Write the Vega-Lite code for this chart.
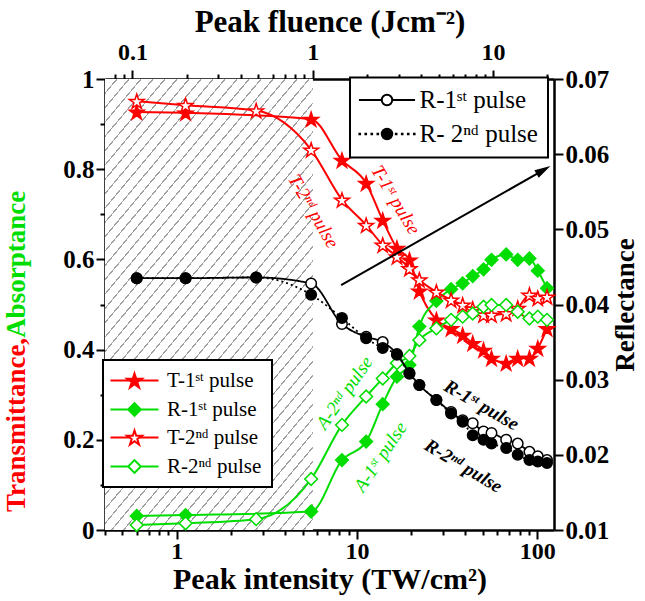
{
"$schema": "https://vega.github.io/schema/vega-lite/v6.json",
"width": 449, "height": 451,
"autosize": {"type": "none"},
"padding": {"left": 105, "top": 79, "right": 91, "bottom": 71},
"background": "white",
"config": {
  "view": {"stroke": null},
  "font": "Liberation Serif",
  "legend": {"strokeWidth": 2},
  "axis": {"domainColor": "black", "domainWidth": 2.5, "tickColor": "black", "tickWidth": 2, "grid": false,
    "labelFont": "Liberation Serif", "labelFontWeight": "bold", "labelFontSize": 25, "labelColor": "black",
    "titleFont": "Liberation Serif", "titleFontWeight": "bold", "titleColor": "black",
    "labelFlush": false, "labelOverlap": false, "labelBound": false, "labelPadding": 2}
},
"datasets": {
"ta": [
{"s":"T1","I":0.6,"v":0.927},{"s":"T1","I":1.12,"v":0.925},{"s":"T1","I":5.57,"v":0.911},{"s":"T1","I":8.26,"v":0.82},{"s":"T1","I":11.25,"v":0.769},{"s":"T1","I":13.9,"v":0.687},{"s":"T1","I":16.67,"v":0.625},{"s":"T1","I":19.56,"v":0.599},{"s":"T1","I":22.2,"v":0.53},{"s":"T1","I":27.6,"v":0.466},{"s":"T1","I":33.3,"v":0.447},{"s":"T1","I":38.6,"v":0.432},{"s":"T1","I":43.9,"v":0.414},{"s":"T1","I":50.4,"v":0.399},{"s":"T1","I":55.8,"v":0.381},{"s":"T1","I":67.3,"v":0.37},{"s":"T1","I":78,"v":0.381},{"s":"T1","I":90.6,"v":0.381},{"s":"T1","I":100.8,"v":0.403},{"s":"T1","I":113.4,"v":0.447},
{"s":"A1","I":0.6,"v":0.031},{"s":"A1","I":1.12,"v":0.033},{"s":"A1","I":5.57,"v":0.041},{"s":"A1","I":8.26,"v":0.155},{"s":"A1","I":11.25,"v":0.196},{"s":"A1","I":13.9,"v":0.279},{"s":"A1","I":16.67,"v":0.34},{"s":"A1","I":19.56,"v":0.366},{"s":"A1","I":22.2,"v":0.451},{"s":"A1","I":27.6,"v":0.508},{"s":"A1","I":33.3,"v":0.534},{"s":"A1","I":38.6,"v":0.547},{"s":"A1","I":43.9,"v":0.563},{"s":"A1","I":50.4,"v":0.578},{"s":"A1","I":55.8,"v":0.599},{"s":"A1","I":67.3,"v":0.611},{"s":"A1","I":78,"v":0.599},{"s":"A1","I":90.6,"v":0.602},{"s":"A1","I":100.8,"v":0.575},{"s":"A1","I":113.4,"v":0.536},
{"s":"T2","I":0.6,"v":0.951},{"s":"T2","I":1.12,"v":0.942},{"s":"T2","I":2.76,"v":0.93},{"s":"T2","I":5.57,"v":0.843},{"s":"T2","I":8.26,"v":0.732},{"s":"T2","I":11.25,"v":0.676},{"s":"T2","I":13.9,"v":0.632},{"s":"T2","I":16.67,"v":0.606},{"s":"T2","I":19.56,"v":0.58},{"s":"T2","I":22.2,"v":0.555},{"s":"T2","I":27.6,"v":0.528},{"s":"T2","I":33.3,"v":0.51},{"s":"T2","I":38.6,"v":0.499},{"s":"T2","I":43.9,"v":0.49},{"s":"T2","I":50.4,"v":0.477},{"s":"T2","I":55.8,"v":0.477},{"s":"T2","I":67.3,"v":0.48},{"s":"T2","I":78,"v":0.492},{"s":"T2","I":90.6,"v":0.521},{"s":"T2","I":100.8,"v":0.514},{"s":"T2","I":113.4,"v":0.517},
{"s":"A2","I":0.6,"v":0.011},{"s":"A2","I":1.12,"v":0.015},{"s":"A2","I":2.76,"v":0.024},{"s":"A2","I":5.57,"v":0.113},{"s":"A2","I":8.26,"v":0.233},{"s":"A2","I":11.25,"v":0.296},{"s":"A2","I":13.9,"v":0.336},{"s":"A2","I":16.67,"v":0.37},{"s":"A2","I":19.56,"v":0.386},{"s":"A2","I":22.2,"v":0.421},{"s":"A2","I":27.6,"v":0.447},{"s":"A2","I":33.3,"v":0.466},{"s":"A2","I":38.6,"v":0.473},{"s":"A2","I":43.9,"v":0.48},{"s":"A2","I":50.4,"v":0.495},{"s":"A2","I":55.8,"v":0.499},{"s":"A2","I":67.3,"v":0.499},{"s":"A2","I":78,"v":0.484},{"s":"A2","I":90.6,"v":0.469},{"s":"A2","I":100.8,"v":0.473},{"s":"A2","I":113.4,"v":0.466}
],
"refl": [
{"s":"R1","I":0.6,"R":0.0435},{"s":"R1","I":1.12,"R":0.0435},{"s":"R1","I":2.76,"R":0.0436},{"s":"R1","I":5.57,"R":0.0428},{"s":"R1","I":8.26,"R":0.0374},{"s":"R1","I":11.25,"R":0.0357},{"s":"R1","I":13.9,"R":0.035},{"s":"R1","I":16.67,"R":0.0334},{"s":"R1","I":19.56,"R":0.0309},{"s":"R1","I":22.2,"R":0.0293},{"s":"R1","I":27.6,"R":0.0273},{"s":"R1","I":33.3,"R":0.0257},{"s":"R1","I":38.6,"R":0.0246},{"s":"R1","I":43.9,"R":0.0242},{"s":"R1","I":50.4,"R":0.0231},{"s":"R1","I":55.8,"R":0.0229},{"s":"R1","I":67.3,"R":0.022},{"s":"R1","I":78,"R":0.0215},{"s":"R1","I":90.6,"R":0.0204},{"s":"R1","I":100.8,"R":0.0198},{"s":"R1","I":113.4,"R":0.0193},
{"s":"R2","I":0.6,"R":0.0435},{"s":"R2","I":1.12,"R":0.0435},{"s":"R2","I":2.76,"R":0.0436},{"s":"R2","I":5.57,"R":0.0413},{"s":"R2","I":8.26,"R":0.0382},{"s":"R2","I":11.25,"R":0.0355},{"s":"R2","I":13.9,"R":0.0342},{"s":"R2","I":16.67,"R":0.0333},{"s":"R2","I":19.56,"R":0.0308},{"s":"R2","I":22.2,"R":0.0293},{"s":"R2","I":27.6,"R":0.0273},{"s":"R2","I":33.3,"R":0.0255},{"s":"R2","I":38.6,"R":0.0244},{"s":"R2","I":43.9,"R":0.0226},{"s":"R2","I":50.4,"R":0.022},{"s":"R2","I":55.8,"R":0.0215},{"s":"R2","I":67.3,"R":0.0209},{"s":"R2","I":78,"R":0.02},{"s":"R2","I":90.6,"R":0.0193},{"s":"R2","I":100.8,"R":0.0191},{"s":"R2","I":113.4,"R":0.0189}
]
},
"layer": [
  {
    "data": {"name": "ta"},
    "layer": [
      {
        "data": {"values": [{}]},
        "mark": {"type": "rect", "fill": {"gradient": "linear", "x1": 0, "y1": 0, "x2": 0.6553, "y2": 1.1899, "stops": [
{"offset":0,"color":"#fff"},
{"offset":0.0192,"color":"#fff"},{"offset":0.0192,"color":"#a0a0a0"},{"offset":0.0218,"color":"#a0a0a0"},{"offset":0.0218,"color":"#fff"},
{"offset":0.0397,"color":"#fff"},{"offset":0.0397,"color":"#a0a0a0"},{"offset":0.0423,"color":"#a0a0a0"},{"offset":0.0423,"color":"#fff"},
{"offset":0.0602,"color":"#fff"},{"offset":0.0602,"color":"#a0a0a0"},{"offset":0.0628,"color":"#a0a0a0"},{"offset":0.0628,"color":"#fff"},
{"offset":0.0807,"color":"#fff"},{"offset":0.0807,"color":"#a0a0a0"},{"offset":0.0833,"color":"#a0a0a0"},{"offset":0.0833,"color":"#fff"},
{"offset":0.1012,"color":"#fff"},{"offset":0.1012,"color":"#a0a0a0"},{"offset":0.1038,"color":"#a0a0a0"},{"offset":0.1038,"color":"#fff"},
{"offset":0.1217,"color":"#fff"},{"offset":0.1217,"color":"#a0a0a0"},{"offset":0.1243,"color":"#a0a0a0"},{"offset":0.1243,"color":"#fff"},
{"offset":0.1422,"color":"#fff"},{"offset":0.1422,"color":"#a0a0a0"},{"offset":0.1448,"color":"#a0a0a0"},{"offset":0.1448,"color":"#fff"},
{"offset":0.1627,"color":"#fff"},{"offset":0.1627,"color":"#a0a0a0"},{"offset":0.1653,"color":"#a0a0a0"},{"offset":0.1653,"color":"#fff"},
{"offset":0.1832,"color":"#fff"},{"offset":0.1832,"color":"#a0a0a0"},{"offset":0.1858,"color":"#a0a0a0"},{"offset":0.1858,"color":"#fff"},
{"offset":0.2037,"color":"#fff"},{"offset":0.2037,"color":"#a0a0a0"},{"offset":0.2063,"color":"#a0a0a0"},{"offset":0.2063,"color":"#fff"},
{"offset":0.2242,"color":"#fff"},{"offset":0.2242,"color":"#a0a0a0"},{"offset":0.2268,"color":"#a0a0a0"},{"offset":0.2268,"color":"#fff"},
{"offset":0.2447,"color":"#fff"},{"offset":0.2447,"color":"#a0a0a0"},{"offset":0.2473,"color":"#a0a0a0"},{"offset":0.2473,"color":"#fff"},
{"offset":0.2652,"color":"#fff"},{"offset":0.2652,"color":"#a0a0a0"},{"offset":0.2678,"color":"#a0a0a0"},{"offset":0.2678,"color":"#fff"},
{"offset":0.2857,"color":"#fff"},{"offset":0.2857,"color":"#a0a0a0"},{"offset":0.2883,"color":"#a0a0a0"},{"offset":0.2883,"color":"#fff"},
{"offset":0.3062,"color":"#fff"},{"offset":0.3062,"color":"#a0a0a0"},{"offset":0.3088,"color":"#a0a0a0"},{"offset":0.3088,"color":"#fff"},
{"offset":0.3267,"color":"#fff"},{"offset":0.3267,"color":"#a0a0a0"},{"offset":0.3293,"color":"#a0a0a0"},{"offset":0.3293,"color":"#fff"},
{"offset":0.3472,"color":"#fff"},{"offset":0.3472,"color":"#a0a0a0"},{"offset":0.3498,"color":"#a0a0a0"},{"offset":0.3498,"color":"#fff"},
{"offset":0.3677,"color":"#fff"},{"offset":0.3677,"color":"#a0a0a0"},{"offset":0.3703,"color":"#a0a0a0"},{"offset":0.3703,"color":"#fff"},
{"offset":0.3882,"color":"#fff"},{"offset":0.3882,"color":"#a0a0a0"},{"offset":0.3908,"color":"#a0a0a0"},{"offset":0.3908,"color":"#fff"},
{"offset":0.4087,"color":"#fff"},{"offset":0.4087,"color":"#a0a0a0"},{"offset":0.4113,"color":"#a0a0a0"},{"offset":0.4113,"color":"#fff"},
{"offset":0.4292,"color":"#fff"},{"offset":0.4292,"color":"#a0a0a0"},{"offset":0.4318,"color":"#a0a0a0"},{"offset":0.4318,"color":"#fff"},
{"offset":0.4497,"color":"#fff"},{"offset":0.4497,"color":"#a0a0a0"},{"offset":0.4523,"color":"#a0a0a0"},{"offset":0.4523,"color":"#fff"},
{"offset":0.4702,"color":"#fff"},{"offset":0.4702,"color":"#a0a0a0"},{"offset":0.4728,"color":"#a0a0a0"},{"offset":0.4728,"color":"#fff"},
{"offset":0.4907,"color":"#fff"},{"offset":0.4907,"color":"#a0a0a0"},{"offset":0.4933,"color":"#a0a0a0"},{"offset":0.4933,"color":"#fff"},
{"offset":0.5112,"color":"#fff"},{"offset":0.5112,"color":"#a0a0a0"},{"offset":0.5138,"color":"#a0a0a0"},{"offset":0.5138,"color":"#fff"},
{"offset":0.5317,"color":"#fff"},{"offset":0.5317,"color":"#a0a0a0"},{"offset":0.5343,"color":"#a0a0a0"},{"offset":0.5343,"color":"#fff"},
{"offset":0.5522,"color":"#fff"},{"offset":0.5522,"color":"#a0a0a0"},{"offset":0.5548,"color":"#a0a0a0"},{"offset":0.5548,"color":"#fff"},
{"offset":0.5727,"color":"#fff"},{"offset":0.5727,"color":"#a0a0a0"},{"offset":0.5753,"color":"#a0a0a0"},{"offset":0.5753,"color":"#fff"},
{"offset":0.5932,"color":"#fff"},{"offset":0.5932,"color":"#a0a0a0"},{"offset":0.5958,"color":"#a0a0a0"},{"offset":0.5958,"color":"#fff"},
{"offset":0.6137,"color":"#fff"},{"offset":0.6137,"color":"#a0a0a0"},{"offset":0.6163,"color":"#a0a0a0"},{"offset":0.6163,"color":"#fff"},
{"offset":0.6342,"color":"#fff"},{"offset":0.6342,"color":"#a0a0a0"},{"offset":0.6368,"color":"#a0a0a0"},{"offset":0.6368,"color":"#fff"},
{"offset":0.6547,"color":"#fff"},{"offset":0.6547,"color":"#a0a0a0"},{"offset":0.6573,"color":"#a0a0a0"},{"offset":0.6573,"color":"#fff"},
{"offset":0.6752,"color":"#fff"},{"offset":0.6752,"color":"#a0a0a0"},{"offset":0.6778,"color":"#a0a0a0"},{"offset":0.6778,"color":"#fff"},
{"offset":0.6957,"color":"#fff"},{"offset":0.6957,"color":"#a0a0a0"},{"offset":0.6983,"color":"#a0a0a0"},{"offset":0.6983,"color":"#fff"},
{"offset":0.7162,"color":"#fff"},{"offset":0.7162,"color":"#a0a0a0"},{"offset":0.7188,"color":"#a0a0a0"},{"offset":0.7188,"color":"#fff"},
{"offset":0.7367,"color":"#fff"},{"offset":0.7367,"color":"#a0a0a0"},{"offset":0.7393,"color":"#a0a0a0"},{"offset":0.7393,"color":"#fff"},
{"offset":0.7572,"color":"#fff"},{"offset":0.7572,"color":"#a0a0a0"},{"offset":0.7598,"color":"#a0a0a0"},{"offset":0.7598,"color":"#fff"},
{"offset":0.7777,"color":"#fff"},{"offset":0.7777,"color":"#a0a0a0"},{"offset":0.7803,"color":"#a0a0a0"},{"offset":0.7803,"color":"#fff"},
{"offset":0.7982,"color":"#fff"},{"offset":0.7982,"color":"#a0a0a0"},{"offset":0.8008,"color":"#a0a0a0"},{"offset":0.8008,"color":"#fff"},
{"offset":0.8187,"color":"#fff"},{"offset":0.8187,"color":"#a0a0a0"},{"offset":0.8213,"color":"#a0a0a0"},{"offset":0.8213,"color":"#fff"},
{"offset":0.8392,"color":"#fff"},{"offset":0.8392,"color":"#a0a0a0"},{"offset":0.8418,"color":"#a0a0a0"},{"offset":0.8418,"color":"#fff"},
{"offset":0.8597,"color":"#fff"},{"offset":0.8597,"color":"#a0a0a0"},{"offset":0.8623,"color":"#a0a0a0"},{"offset":0.8623,"color":"#fff"},
{"offset":0.8802,"color":"#fff"},{"offset":0.8802,"color":"#a0a0a0"},{"offset":0.8828,"color":"#a0a0a0"},{"offset":0.8828,"color":"#fff"},
{"offset":0.9007,"color":"#fff"},{"offset":0.9007,"color":"#a0a0a0"},{"offset":0.9033,"color":"#a0a0a0"},{"offset":0.9033,"color":"#fff"},
{"offset":0.9212,"color":"#fff"},{"offset":0.9212,"color":"#a0a0a0"},{"offset":0.9238,"color":"#a0a0a0"},{"offset":0.9238,"color":"#fff"},
{"offset":0.9417,"color":"#fff"},{"offset":0.9417,"color":"#a0a0a0"},{"offset":0.9443,"color":"#a0a0a0"},{"offset":0.9443,"color":"#fff"},
{"offset":0.9622,"color":"#fff"},{"offset":0.9622,"color":"#a0a0a0"},{"offset":0.9648,"color":"#a0a0a0"},{"offset":0.9648,"color":"#fff"},
{"offset":0.9827,"color":"#fff"},{"offset":0.9827,"color":"#a0a0a0"},{"offset":0.9853,"color":"#a0a0a0"},{"offset":0.9853,"color":"#fff"},
{"offset":1,"color":"#fff"}
        ]}},
        "encoding": {
          "x": {"datum": 0.4, "type": "quantitative", "scale": {"type": "log", "domain": [0.4, 124]}},
          "x2": {"datum": 5.7},
          "y": {"datum": 0, "type": "quantitative", "scale": {"domain": [0, 1]}},
          "y2": {"datum": 1}
        }
      },
      {
        "mark": {"type": "line", "interpolate": "monotone", "strokeWidth": 2},
        "encoding": {
          "x": {"field": "I", "type": "quantitative", "scale": {"type": "log", "domain": [0.4, 124]},
            "axis": {"orient": "bottom", "values": [0.4,0.5,0.6,0.7,0.8,0.9,1,2,3,4,5,6,7,8,9,10,20,30,40,50,60,70,80,90,100],
              "labelExpr": "indexof([1,10,100], datum.value) >= 0 ? format(datum.value, 'd') : ''",
              "tickSize": {"condition": {"test": "indexof([1,10,100], datum.value) >= 0", "value": 9}, "value": 5},
              "labelPadding": 0, "labelFontSize": 24,
              "title": "Peak intensity (TW/cm²)", "titleFontSize": 30, "titlePadding": 1}},
          "y": {"field": "v", "type": "quantitative", "scale": {"domain": [0, 1]},
            "axis": {"orient": "left", "values": [0,0.1,0.2,0.3,0.4,0.5,0.6,0.7,0.8,0.9,1],
              "labelExpr": "abs(datum.value*5 - round(datum.value*5)) < 0.000001 ? format(datum.value, '~g') : ''",
              "tickSize": {"condition": {"test": "abs(datum.value*5 - round(datum.value*5)) < 0.000001", "value": 9}, "value": 5},
              "title": ""}},
          "detail": {"field": "s", "type": "nominal"},
          "color": {"condition": {"test": "slice(datum.s,0,1) == 'T'", "value": "#ff0000"}, "value": "#00dd00"}
        }
      },
      {
        "mark": {"type": "point", "opacity": 1, "strokeWidth": 1.5, "size": 240},
        "encoding": {
          "x": {"field": "I", "type": "quantitative", "scale": {"type": "log", "domain": [0.4, 124]}},
          "y": {"field": "v", "type": "quantitative", "scale": {"domain": [0, 1]}},
          "shape": {"condition": {"test": "slice(datum.s,0,1) == 'T'", "value": "M0,-0.905L0.225,-0.214L0.951,-0.214L0.363,0.214L0.588,0.905L0,0.478L-0.588,0.905L-0.363,0.214L-0.951,-0.214L-0.225,-0.214Z"}, "value": "M-0.82,0L0,-0.82L0.82,0L0,0.82Z"},
          "fill": {"condition": [{"test": "datum.s == 'T1'", "value": "#ff0000"}, {"test": "datum.s == 'A1'", "value": "#00dd00"}], "value": "white"},
          "stroke": {"condition": {"test": "slice(datum.s,0,1) == 'T'", "value": "#ff0000"}, "value": "#00dd00"}
        }
      },
      {
        "transform": [{"filter": "false"}],
        "mark": {"type": "point", "filled": true, "opacity": 1, "strokeWidth": 2, "size": 240},
        "encoding": {
          "shape": {"field": "s", "type": "nominal", "scale": {"domain": ["T1","A1","T2","A2"], "range": [
              "M-3.1,0L-0.66,0M0.66,0L3.1,0M0,-0.905L0.225,-0.214L0.951,-0.214L0.363,0.214L0.588,0.905L0,0.478L-0.588,0.905L-0.363,0.214L-0.951,-0.214L-0.225,-0.214Z",
              "M-3.1,0L-0.82,0M0.82,0L3.1,0M-0.82,0L0,-0.82L0.82,0L0,0.82Z",
              "M-3.1,0L-0.66,0M0.66,0L3.1,0M0,-0.905L0.225,-0.214L0.951,-0.214L0.363,0.214L0.588,0.905L0,0.478L-0.588,0.905L-0.363,0.214L-0.951,-0.214L-0.225,-0.214Z",
              "M-3.1,0L-0.82,0M0.82,0L3.1,0M-0.82,0L0,-0.82L0.82,0L0,0.82Z"]},
            "legend": {"orient": "none", "legendX": -2, "legendY": 281, "title": null, "direction": "vertical",
              "strokeColor": "black", "fillColor": "white", "padding": 10, "symbolSize": 240, "symbolOffset": 11, "symbolStrokeWidth": 2,
              "labelOffset": 22, "rowPadding": 6, "labelFont": "Liberation Serif", "labelFontSize": 21, "labelColor": "black",
              "labelExpr": "datum.value == 'T1' ? 'T-1ˢᵗ pulse' : datum.value == 'A1' ? 'R-1ˢᵗ pulse' : datum.value == 'T2' ? 'T-2ⁿᵈ pulse' : 'R-2ⁿᵈ pulse'"}},
          "fill": {"field": "s", "type": "nominal", "scale": {"domain": ["T1","A1","T2","A2"], "range": ["#ff0000","#00dd00","white","white"]},
            "legend": {"orient": "none", "legendX": -2, "legendY": 281, "title": null, "direction": "vertical",
              "strokeColor": "black", "fillColor": "white", "padding": 10, "symbolSize": 240, "symbolOffset": 11, "symbolStrokeWidth": 2,
              "labelOffset": 22, "rowPadding": 6, "labelFont": "Liberation Serif", "labelFontSize": 21, "labelColor": "black",
              "labelExpr": "datum.value == 'T1' ? 'T-1ˢᵗ pulse' : datum.value == 'A1' ? 'R-1ˢᵗ pulse' : datum.value == 'T2' ? 'T-2ⁿᵈ pulse' : 'R-2ⁿᵈ pulse'"}},
          "stroke": {"field": "s", "type": "nominal", "scale": {"domain": ["T1","A1","T2","A2"], "range": ["#ff0000","#00dd00","#ff0000","#00dd00"]},
            "legend": {"orient": "none", "legendX": -2, "legendY": 281, "title": null, "direction": "vertical",
              "strokeColor": "black", "fillColor": "white", "padding": 10, "symbolSize": 240, "symbolOffset": 11, "symbolStrokeWidth": 2,
              "labelOffset": 22, "rowPadding": 6, "labelFont": "Liberation Serif", "labelFontSize": 21, "labelColor": "black",
              "labelExpr": "datum.value == 'T1' ? 'T-1ˢᵗ pulse' : datum.value == 'A1' ? 'R-1ˢᵗ pulse' : datum.value == 'T2' ? 'T-2ⁿᵈ pulse' : 'R-2ⁿᵈ pulse'"}}
        }
      },
      {
        "data": {"values": [{}]},
        "mark": {"type": "rule", "strokeWidth": 2, "color": "black"},
        "encoding": {
          "x": {"datum": 8.17, "type": "quantitative", "scale": {"type": "log", "domain": [0.4, 124]}},
          "x2": {"datum": 108.4},
          "y": {"datum": 0.543, "type": "quantitative", "scale": {"domain": [0, 1]}},
          "y2": {"datum": 0.798}
        }
      },
      {
        "data": {"values": [{}]},
        "mark": {"type": "point", "shape": "M0,0L-1,-0.27L-1,0.27Z", "size": 1024, "filled": true, "color": "black", "opacity": 1, "angle": 330.4},
        "encoding": {
          "x": {"datum": 118.5, "type": "quantitative", "scale": {"type": "log", "domain": [0.4, 124]}},
          "y": {"datum": 0.807, "type": "quantitative", "scale": {"domain": [0, 1]}}
        }
      },
      {
        "data": {"values": [{}]},
        "mark": {"type": "text", "text": "T-2ⁿᵈ pulse", "angle": 60, "color": "#ff0000", "fontSize": 19, "font": "Liberation Serif", "fontStyle": "italic", "align": "center", "baseline": "middle"},
        "encoding": {
          "x": {"datum": 5.74, "type": "quantitative", "scale": {"type": "log", "domain": [0.4, 124]}},
          "y": {"datum": 0.707, "type": "quantitative", "scale": {"domain": [0, 1]}}
        }
      },
      {
        "data": {"values": [{}]},
        "mark": {"type": "text", "text": "T-1ˢᵗ pulse", "angle": 59, "color": "#ff0000", "fontSize": 19, "font": "Liberation Serif", "fontStyle": "italic", "align": "center", "baseline": "middle"},
        "encoding": {
          "x": {"datum": 16.4, "type": "quantitative", "scale": {"type": "log", "domain": [0.4, 124]}},
          "y": {"datum": 0.732, "type": "quantitative", "scale": {"domain": [0, 1]}}
        }
      },
      {
        "data": {"values": [{}]},
        "mark": {"type": "text", "text": "A-2ⁿᵈ pulse", "angle": 305, "color": "#00dd00", "fontSize": 19, "font": "Liberation Serif", "fontStyle": "italic", "align": "center", "baseline": "middle"},
        "encoding": {
          "x": {"datum": 8.52, "type": "quantitative", "scale": {"type": "log", "domain": [0.4, 124]}},
          "y": {"datum": 0.304, "type": "quantitative", "scale": {"domain": [0, 1]}}
        }
      },
      {
        "data": {"values": [{}]},
        "mark": {"type": "text", "text": "A-1ˢᵗ pulse", "angle": 304, "color": "#00dd00", "fontSize": 19, "font": "Liberation Serif", "fontStyle": "italic", "align": "center", "baseline": "middle"},
        "encoding": {
          "x": {"datum": 13.5, "type": "quantitative", "scale": {"type": "log", "domain": [0.4, 124]}},
          "y": {"datum": 0.162, "type": "quantitative", "scale": {"domain": [0, 1]}}
        }
      },
      {
        "data": {"values": [{}]},
        "mark": {"type": "text", "text": "R-1ˢᵗ pulse", "angle": 30, "color": "black", "fontSize": 19, "font": "Liberation Serif", "fontStyle": "italic", "fontWeight": "bold", "align": "center", "baseline": "middle"},
        "encoding": {
          "x": {"datum": 49.1, "type": "quantitative", "scale": {"type": "log", "domain": [0.4, 124]}},
          "y": {"datum": 0.277, "type": "quantitative", "scale": {"domain": [0, 1]}}
        }
      },
      {
        "data": {"values": [{}]},
        "mark": {"type": "text", "text": "R-2ⁿᵈ pulse", "angle": 31, "color": "black", "fontSize": 19, "font": "Liberation Serif", "fontStyle": "italic", "fontWeight": "bold", "align": "center", "baseline": "middle"},
        "encoding": {
          "x": {"datum": 39.0, "type": "quantitative", "scale": {"type": "log", "domain": [0.4, 124]}},
          "y": {"datum": 0.142, "type": "quantitative", "scale": {"domain": [0, 1]}}
        }
      },
      {
        "data": {"values": [{}]},
        "mark": {"type": "text", "text": "Transmittance,\u00a0", "angle": 270, "color": "#ff0000", "fontSize": 27, "font": "Liberation Serif", "fontWeight": "bold", "align": "right", "baseline": "middle"},
        "encoding": {
          "x": {"datum": 0.13, "type": "quantitative", "scale": {"type": "log", "domain": [0.4, 124]}},
          "y": {"datum": 0.426, "type": "quantitative", "scale": {"domain": [0, 1]}}
        }
      },
      {
        "data": {"values": [{}]},
        "mark": {"type": "text", "text": "Absorptance", "angle": 270, "color": "#00dd00", "fontSize": 27, "font": "Liberation Serif", "fontWeight": "bold", "align": "left", "baseline": "middle"},
        "encoding": {
          "x": {"datum": 0.13, "type": "quantitative", "scale": {"type": "log", "domain": [0.4, 124]}},
          "y": {"datum": 0.426, "type": "quantitative", "scale": {"domain": [0, 1]}}
        }
      }
    ]
  },
  {
    "data": {"name": "refl"},
    "layer": [
      {
        "mark": {"type": "line", "interpolate": "monotone", "strokeWidth": 1.8, "color": "black"},
        "encoding": {
          "x": {"field": "I", "type": "quantitative", "scale": {"type": "log", "domain": [0.4, 124]}, "axis": null},
          "y": {"field": "R", "type": "quantitative", "scale": {"domain": [0.01, 0.07]},
            "axis": {"orient": "right", "values": [0.01,0.015,0.02,0.025,0.03,0.035,0.04,0.045,0.05,0.055,0.06,0.065,0.07],
              "labelExpr": "abs(datum.value*100 - round(datum.value*100)) < 0.000001 ? format(datum.value, '.2f') : ''",
              "tickSize": {"condition": {"test": "abs(datum.value*100 - round(datum.value*100)) < 0.000001", "value": 9}, "value": 5},
              "title": "Reflectance", "titleFontSize": 27, "titleAngle": 270, "titleBaseline": "top", "titlePadding": 4}},
          "detail": {"field": "s", "type": "nominal"},
          "strokeDash": {"condition": {"test": "datum.s == 'R2'", "value": [2,3]}, "value": [1,0]}
        }
      },
      {
        "mark": {"type": "point", "shape": "circle", "size": 110, "opacity": 1, "strokeWidth": 1.5, "stroke": "black"},
        "encoding": {
          "x": {"field": "I", "type": "quantitative", "scale": {"type": "log", "domain": [0.4, 124]}, "axis": null},
          "y": {"field": "R", "type": "quantitative", "scale": {"domain": [0.01, 0.07]}},
          "fill": {"condition": {"test": "datum.s == 'R1'", "value": "white"}, "value": "black"}
        }
      },
      {
        "transform": [{"filter": "false"}],
        "mark": {"type": "point", "filled": true, "opacity": 1, "strokeWidth": 2, "size": 110},
        "encoding": {
          "shape": {"field": "s", "type": "nominal", "scale": {"domain": ["R1","R2"], "range": [
              "M-5.35,0L-1,0M1,0L5.35,0M-1,0A1,1,0,1,0,1,0A1,1,0,1,0,-1,0Z",
              "M-5.26,-0.06h0.12v0.12h-0.12ZM-4.11,-0.06h0.12v0.12h-0.12ZM-2.96,-0.06h0.12v0.12h-0.12ZM-1.81,-0.06h0.12v0.12h-0.12ZM1.69,-0.06h0.12v0.12h-0.12ZM2.84,-0.06h0.12v0.12h-0.12ZM3.99,-0.06h0.12v0.12h-0.12ZM5.14,-0.06h0.12v0.12h-0.12ZM-1,0A1,1,0,1,0,1,0A1,1,0,1,0,-1,0Z"]},
            "legend": {"orient": "none", "legendX": 245, "legendY": -1.5, "title": null, "direction": "vertical",
              "strokeColor": "black", "fillColor": "white", "padding": 10, "symbolSize": 110, "symbolOffset": 14.5, "symbolStrokeWidth": 2,
              "labelOffset": 20, "rowPadding": 8, "labelFont": "Liberation Serif", "labelFontSize": 25, "labelColor": "black",
              "labelExpr": "datum.value == 'R1' ? 'R-1ˢᵗ pulse' : 'R- 2ⁿᵈ pulse'"}},
          "fill": {"field": "s", "type": "nominal", "scale": {"domain": ["R1","R2"], "range": ["white","black"]},
            "legend": {"orient": "none", "legendX": 245, "legendY": -1.5, "title": null, "direction": "vertical",
              "strokeColor": "black", "fillColor": "white", "padding": 10, "symbolSize": 110, "symbolOffset": 14.5, "symbolStrokeWidth": 2,
              "labelOffset": 20, "rowPadding": 8, "labelFont": "Liberation Serif", "labelFontSize": 25, "labelColor": "black",
              "labelExpr": "datum.value == 'R1' ? 'R-1ˢᵗ pulse' : 'R- 2ⁿᵈ pulse'"}},
          "stroke": {"field": "s", "type": "nominal", "scale": {"domain": ["R1","R2"], "range": ["black","black"]},
            "legend": {"orient": "none", "legendX": 245, "legendY": -1.5, "title": null, "direction": "vertical",
              "strokeColor": "black", "fillColor": "white", "padding": 10, "symbolSize": 110, "symbolOffset": 14.5, "symbolStrokeWidth": 2,
              "labelOffset": 20, "rowPadding": 8, "labelFont": "Liberation Serif", "labelFontSize": 25, "labelColor": "black",
              "labelExpr": "datum.value == 'R1' ? 'R-1ˢᵗ pulse' : 'R- 2ⁿᵈ pulse'"}}
        }
      }
    ]
  },
  {
    "data": {"values": [{}]},
    "mark": {"type": "point", "opacity": 0},
    "encoding": {
      "x": {"datum": 1, "type": "quantitative", "scale": {"type": "log", "domain": [0.0704, 21.8]},
        "axis": {"orient": "top", "values": [0.08,0.09,0.1,0.2,0.3,0.4,0.5,0.6,0.7,0.8,0.9,1,2,3,4,5,6,7,8,9,10,20],
          "labelExpr": "indexof([0.1,1,10], datum.value) >= 0 ? format(datum.value, '~g') : ''",
          "tickSize": {"condition": {"test": "indexof([0.1,1,10], datum.value) >= 0", "value": 9}, "value": 5},
          "labelPadding": 6, "labelFontSize": 24,
          "title": "Peak fluence (Jcm⁻²)", "titleFontSize": 31, "titlePadding": 2}}
    }
  }
],
"resolve": {"scale": {"x": "independent", "y": "independent", "shape": "independent", "fill": "independent", "stroke": "independent", "color": "independent", "strokeDash": "independent"}}
}
